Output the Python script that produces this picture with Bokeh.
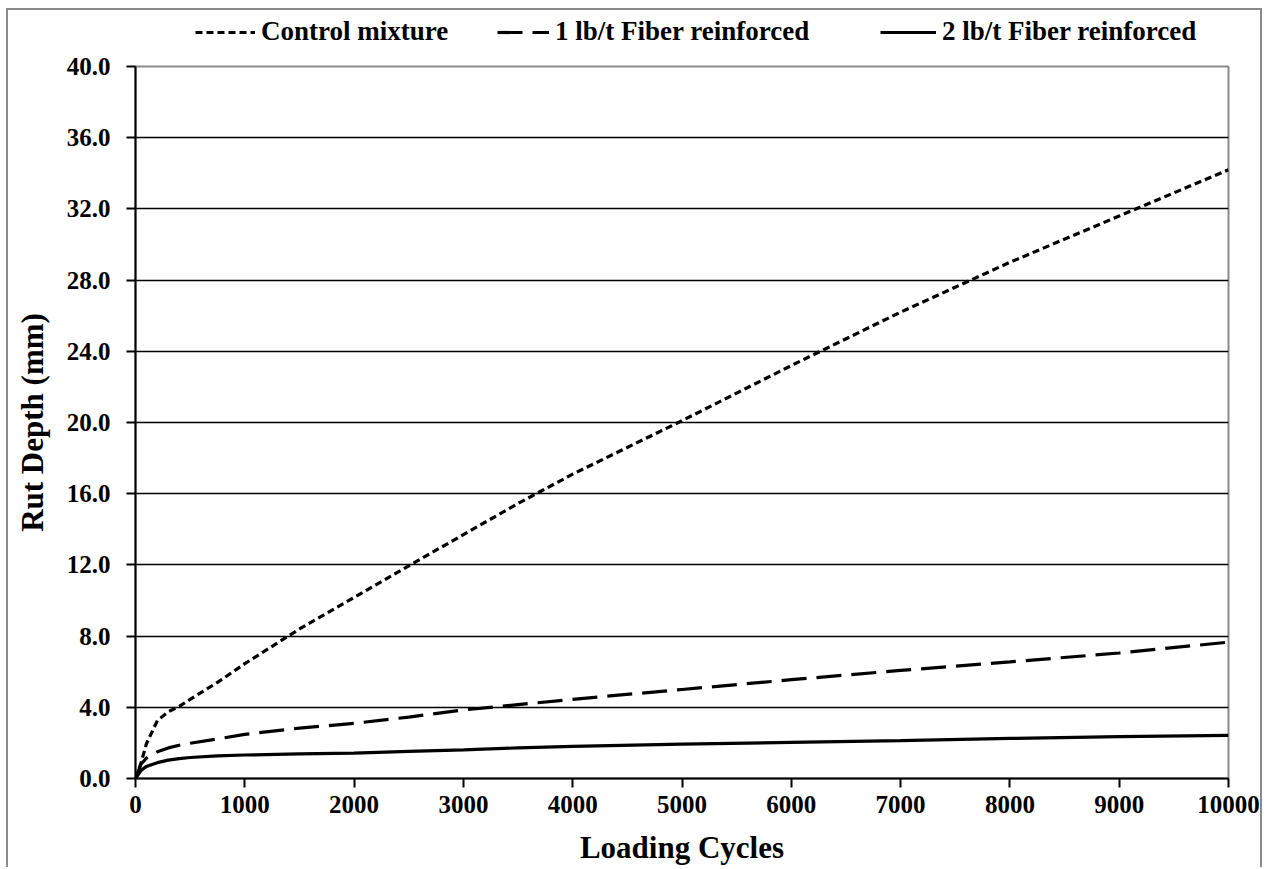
from bokeh.plotting import figure
from bokeh.layouts import column
from bokeh.models import Range1d, FixedTicker, PrintfTickFormatter, BasicTickFormatter, Legend, LegendItem
from bokeh.embed import file_html
from bokeh.resources import INLINE

cycles = [0, 50, 100, 200, 300, 400, 500, 750, 1000, 1500, 2000, 2500, 3000,
          3500, 4000, 5000, 6000, 7000, 8000, 9000, 10000]
control = [0.0, 0.85, 1.95, 3.25, 3.75, 4.05, 4.45, 5.4, 6.45, 8.4, 10.17, 11.95, 13.7,
           15.45, 17.1, 20.1, 23.2, 26.2, 29.0, 31.6, 34.2]
fiber1 = [0.0, 0.8, 1.15, 1.5, 1.72, 1.87, 1.98, 2.22, 2.48, 2.83, 3.1, 3.45, 3.85,
          4.15, 4.45, 5.0, 5.55, 6.07, 6.55, 7.05, 7.66]
fiber2 = [0.0, 0.45, 0.68, 0.89, 1.03, 1.12, 1.18, 1.27, 1.32, 1.38, 1.43, 1.52, 1.61,
          1.72, 1.8, 1.93, 2.03, 2.13, 2.25, 2.35, 2.42]

series_names = ["Control mixture", "1 lb/t Fiber reinforced", "2 lb/t Fiber reinforced"]
series_values = [control, fiber1, fiber2]
x_ticks = list(range(0, 10001, 1000))
y_ticks = [0, 4, 8, 12, 16, 20, 24, 28, 32, 36, 40]

FONT = "Liberation Serif"
dashes = ["7 4", "25 10", "solid"]
LW = 3.2

# ---- legend strip (top); its frame is aligned with the main frame by the column ----
pl = figure(width=1252, height=42, output_backend="svg", toolbar_location=None,
            x_range=Range1d(0, 10000), y_range=Range1d(100, 200),
            x_axis_location=None, y_axis_location=None,
            min_border_left=127, min_border_right=32, min_border_top=0, min_border_bottom=0)
pl.grid.visible = False
pl.outline_line_color = None
pl.border_fill_color = "white"

legend_x = [60, 362, 745]
glyph_w = [60, 52, 56]
for name, ys, d, lx, gw in zip(series_names, series_values, dashes, legend_x, glyph_w):
    # series drawn outside the strip's visible range; only its legend entry shows
    r = pl.line(cycles, ys, line_color="black", line_width=LW, line_dash=d)
    lg = Legend(items=[LegendItem(label=name, renderers=[r])], location=(lx, 5),
                orientation="horizontal", padding=0, margin=0,
                border_line_color=None, background_fill_alpha=0,
                glyph_width=gw, glyph_height=22, label_standoff=6,
                label_text_font=FONT, label_text_font_style="bold",
                label_text_font_size="27px", label_text_color="black")
    pl.add_layout(lg, "center")

# ---- main chart ----
p = figure(width=1252, height=815, output_backend="svg", toolbar_location=None,
           x_range=Range1d(0, 10000), y_range=Range1d(0, 40),
           min_border_left=127, min_border_right=32, min_border_top=14, min_border_bottom=89)

p.outline_line_color = "#8a8a8a"
p.outline_line_width = 2
p.background_fill_color = "white"
p.border_fill_color = "white"

p.xgrid.visible = False
p.ygrid.ticker = FixedTicker(ticks=y_ticks[1:-1])
p.ygrid.grid_line_color = "black"
p.ygrid.grid_line_width = 1.5

for ax in (p.xaxis[0], p.yaxis[0]):
    ax.axis_line_color = "black"
    ax.axis_line_width = 2
    ax.major_tick_line_color = "black"
    ax.major_tick_line_width = 2
    ax.major_tick_out = 9
    ax.major_tick_in = 0
    ax.minor_tick_line_color = None
    ax.major_label_text_font = FONT
    ax.major_label_text_font_style = "bold"
    ax.major_label_text_font_size = "25px"
    ax.major_label_text_color = "black"
    ax.axis_label_text_font = FONT
    ax.axis_label_text_font_style = "bold"
    ax.axis_label_text_font_size = "31px"
    ax.axis_label_text_color = "black"

p.xaxis.ticker = FixedTicker(ticks=x_ticks)
p.xaxis.formatter = BasicTickFormatter(use_scientific=False)
p.yaxis.ticker = FixedTicker(ticks=y_ticks)
p.yaxis.formatter = PrintfTickFormatter(format="%.1f")
p.xaxis.axis_label = "Loading Cycles"
p.yaxis.axis_label = "Rut Depth (mm)"
p.xaxis.major_label_standoff = 8
p.xaxis.axis_label_standoff = 14
p.yaxis.major_label_standoff = 16
p.yaxis.axis_label_standoff = 14

for ys, d in zip(series_values, dashes):
    p.line(cycles, ys, line_color="black", line_width=LW, line_dash=d)

layout = column(pl, p, spacing=0)
layout.styles = {"border-left": "2px solid #8a8a8a", "border-top": "2px solid #8a8a8a",
                 "border-right": "2px solid #8a8a8a", "margin-left": "6px", "margin-top": "8px",
                 "background-color": "white"}

open("out.html", "w").write(file_html(layout, INLINE))
